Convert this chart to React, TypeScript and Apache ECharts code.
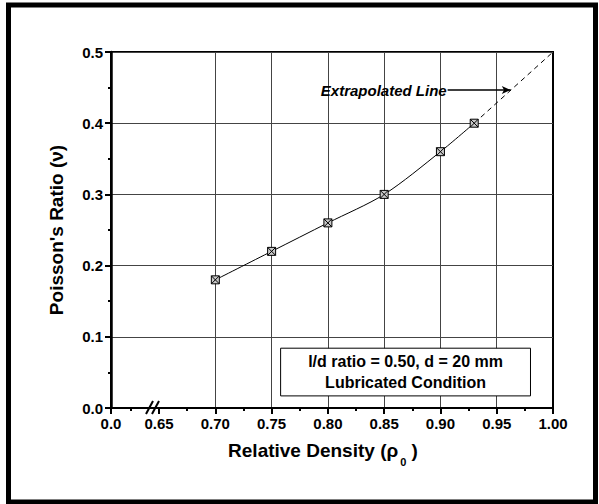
import React, { useEffect, useRef } from "react";
import * as echarts from "echarts";

// Broken x axis: the "0.0" tick sits at this value on the continuous scale
const X_BREAK_ORIGIN = 0.6073;
const xMajorTicks = [X_BREAK_ORIGIN, 0.65, 0.7, 0.75, 0.8, 0.85, 0.9, 0.95, 1.0];
const xTickLabels = ["0.0", "0.65", "0.70", "0.75", "0.80", "0.85", "0.90", "0.95", "1.00"];
const xMinorTicks = [0.625, 0.675, 0.725, 0.775, 0.825, 0.875, 0.925, 0.975];
const xGridValues = [0.7, 0.75, 0.8, 0.85, 0.9, 0.95];

const relativeDensity = [0.7, 0.75, 0.8, 0.85, 0.9, 0.93];
const poissonRatio = [0.18, 0.22, 0.26, 0.3, 0.36, 0.4];

const extrapolatedX = [0.93, 1.0];
const extrapolatedY = [0.4, 0.5];

// annotation arrow (data coords)
const arrowFrom = [0.9064, 0.4466];
const arrowTo = [0.9625, 0.4466];

// info box (data coords)
const boxFrom = [0.758, 0.017];
const boxTo = [0.98, 0.084];
const boxText = "l/d ratio = 0.50, d = 20 mm\nLubricated Condition";

const FONT = "'Liberation Sans', Arial, Helvetica, sans-serif";

const markerPath = "path://M0,0 L10,0 L10,10 L0,10 Z M0,0 L10,10 M10,0 L0,10";

export default function App() {
  const ref = useRef<HTMLDivElement>(null);

  useEffect(() => {
    if (!ref.current) return;
    const chart = echarts.init(ref.current, undefined, { renderer: "svg" });

    const mainData = relativeDensity.map((x, i) => [x, poissonRatio[i]]);
    const extraData = extrapolatedX.map((x, i) => [x, extrapolatedY[i]]);

    const gridRect = { left: 111, top: 52, width: 442, height: 356 };

    const option: any = {
      animation: false,
      backgroundColor: "#fff",
      textStyle: { fontFamily: FONT },
      grid: {
        ...gridRect,
        show: true,
        borderColor: "#000",
        borderWidth: 2,
        backgroundColor: "transparent",
      },
      xAxis: [
        {
          type: "value",
          min: X_BREAK_ORIGIN,
          max: 1.0,
          name: "{a|Relative Density (ρ}{b|0}{a| )}",
          nameLocation: "middle",
          nameGap: 30,
          nameTextStyle: {
            padding: [0, 18, 0, 0],
            rich: {
              a: { fontFamily: FONT, fontWeight: "bold", fontSize: 19, color: "#000", verticalAlign: "top", height: 25 },
              b: { fontFamily: FONT, fontWeight: "bold", fontSize: 11, color: "#000", verticalAlign: "top", padding: [11, 0, 0, 2], height: 25 },
            },
          },
          axisLine: { show: true, onZero: false, lineStyle: { color: "#000", width: 2 } },
          axisTick: {
            show: true,
            inside: false,
            length: 6,
            customValues: xMajorTicks,
            lineStyle: { color: "#000", width: 2 },
          },
          axisLabel: {
            show: true,
            customValues: xMajorTicks,
            margin: 8,
            fontFamily: FONT,
            fontWeight: "bold",
            fontSize: 15,
            color: "#000",
            formatter: (v: number) => {
              const i = xMajorTicks.findIndex((t) => Math.abs(t - v) < 1e-6);
              return i >= 0 ? xTickLabels[i] : "";
            },
          },
          splitLine: { show: false },
        },
        {
          type: "value",
          min: X_BREAK_ORIGIN,
          max: 1.0,
          position: "bottom",
          axisLine: { show: false },
          axisTick: {
            show: true,
            inside: false,
            length: 3,
            customValues: xMinorTicks,
            lineStyle: { color: "#000", width: 2 },
          },
          axisLabel: { show: false },
          splitLine: { show: false },
        },
        {
          type: "value",
          min: X_BREAK_ORIGIN,
          max: 1.0,
          position: "bottom",
          axisLine: { show: false },
          axisTick: { show: false, customValues: xGridValues },
          axisLabel: { show: false, customValues: xGridValues },
          splitLine: { show: true, lineStyle: { color: "#444", width: 1 } },
        },
      ],
      yAxis: {
        type: "value",
        min: 0,
        max: 0.5,
        interval: 0.1,
        name: "Poisson's Ratio (ν)",
        nameLocation: "middle",
        nameGap: 45,
        nameTextStyle: { fontFamily: FONT, fontWeight: "bold", fontSize: 19, color: "#000" },
        axisLine: { show: true, onZero: false, lineStyle: { color: "#000", width: 2.5 } },
        axisTick: { show: true, inside: false, length: 6, lineStyle: { color: "#000", width: 2 } },
        minorTick: { show: true, splitNumber: 2, length: 3, lineStyle: { color: "#000", width: 2 } },
        axisLabel: {
          margin: 8,
          fontFamily: FONT,
          fontWeight: "bold",
          fontSize: 15,
          color: "#000",
          formatter: (v: number) => v.toFixed(1),
        },
        splitLine: { show: true, lineStyle: { color: "#444", width: 1 } },
      },
      series: [
        {
          type: "line",
          name: "box",
          xAxisIndex: 0,
          data: [],
          silent: true,
          z: 3,
          markArea: {
            silent: true,
            itemStyle: { color: "#fff", borderColor: "#000", borderWidth: 1 },
            label: {
              show: true,
              position: "inside",
              formatter: boxText,
              fontFamily: FONT,
              fontWeight: "bold",
              fontSize: 16,
              lineHeight: 21,
              color: "#000",
            },
            data: [[{ coord: boxFrom }, { coord: boxTo }]],
          },
        },
        {
          type: "line",
          name: "extrapolated",
          xAxisIndex: 0,
          data: extraData,
          showSymbol: false,
          symbol: "none",
          z: 4,
          lineStyle: { color: "#000", width: 1, type: [5, 4] },
          markLine: {
            silent: true,
            symbol: ["none", "arrow"],
            symbolSize: [6, 9],
            lineStyle: { color: "#000", width: 1.5, type: "solid" },
            label: {
              show: true,
              position: "start",
              distance: 1,
              formatter: "Extrapolated Line",
              fontFamily: FONT,
              fontWeight: "bold",
              fontStyle: "italic",
              fontSize: 15,
              color: "#000",
            },
            data: [[{ coord: arrowFrom }, { coord: arrowTo }]],
          },
        },
        {
          type: "line",
          name: "Poisson's ratio",
          xAxisIndex: 0,
          data: mainData,
          smooth: 0.3,
          z: 5,
          symbol: markerPath,
          symbolSize: 8,
          showSymbol: true,
          lineStyle: { color: "#000", width: 1 },
          itemStyle: { color: "#c8c8c8", borderColor: "#000", borderWidth: 1 },
        },
      ],
      graphic: [
        {
          type: "rect",
          shape: { x: 8.5, y: 5, width: 587, height: 497 },
          style: { fill: "none", stroke: "#000", lineWidth: 5 },
          silent: true,
        },
        {
          type: "line",
          shape: { x1: 146, y1: 414, x2: 153, y2: 401 },
          style: { stroke: "#000", lineWidth: 2 },
          silent: true,
          z: 100,
        },
        {
          type: "line",
          shape: { x1: 152, y1: 414, x2: 159, y2: 401 },
          style: { stroke: "#000", lineWidth: 2 },
          silent: true,
          z: 100,
        },
      ],
    };

    chart.setOption(option);
    return () => chart.dispose();
  }, []);

  return (
    <div
      ref={ref}
      style={{ position: "absolute", left: 0, top: 0, width: 599, height: 504, background: "#fff" }}
    />
  );
}
